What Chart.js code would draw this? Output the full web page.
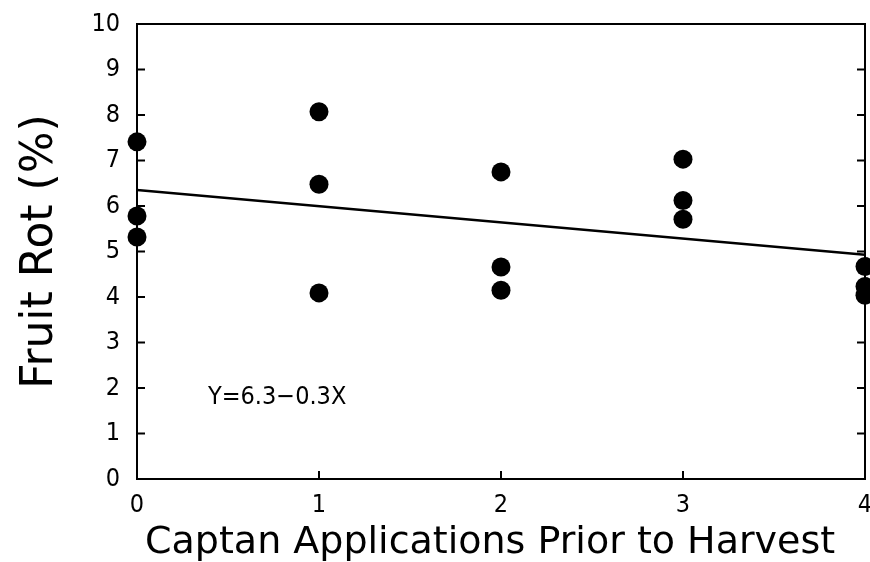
<!DOCTYPE html>
<html>
<head>
<meta charset="utf-8">
<script src="https://cdn.jsdelivr.net/npm/chart.js@4/dist/chart.umd.min.js"></script>
<style>
  body { margin: 0; background: #fff; }
  #wrap { width: 870px; height: 562px; }
</style>
</head>
<body>
<div id="wrap"><canvas id="chart" width="870" height="562"></canvas></div>
<script>
// Captan applications (x) and fruit rot % (y)
const appsX = [0, 0, 0, 1, 1, 1, 2, 2, 2, 3, 3, 3, 4, 4, 4];
const rotY = [7.41, 5.78, 5.32, 8.07, 6.48, 4.09, 6.75, 4.66, 4.15, 7.03, 6.12, 5.71, 4.67, 4.23, 4.04];

// regression line as drawn (ends at x=0 and x=4)
const fitX = [0, 4];
const fitY = [6.35, 4.93];

const xTicks = [0, 1, 2, 3, 4];
const yTicks = [0, 1, 2, 3, 4, 5, 6, 7, 8, 9, 10];

const xTitle = 'Captan Applications Prior to Harvest';
const yTitle = 'Fruit Rot (%)';
const equation = 'Y=6.3\u22120.3X';
const equationAt = { x: 0.77, y: 1.8 };

const TICK_FONT = "'DejaVu Sans Condensed', 'DejaVu Sans', sans-serif";
const TITLE_FONT = "'DejaVu Sans', sans-serif";

// frame box with inward tick marks, x title and the equation text
const framePlugin = {
  id: 'frame',
  afterDatasetsDraw(chart) {
    const { ctx, chartArea: a, scales } = chart;
    ctx.save();
    ctx.strokeStyle = '#000';
    ctx.lineWidth = 2;
    ctx.strokeRect(a.left, a.top, a.right - a.left, a.bottom - a.top);
    ctx.beginPath();
    yTicks.forEach(v => {
      const py = scales.y.getPixelForValue(v);
      ctx.moveTo(a.left, py); ctx.lineTo(a.left + 8, py);
      ctx.moveTo(a.right, py); ctx.lineTo(a.right - 8, py);
    });
    xTicks.forEach(v => {
      const px = scales.x.getPixelForValue(v);
      ctx.moveTo(px, a.bottom); ctx.lineTo(px, a.bottom - 8);
    });
    ctx.stroke();

    ctx.fillStyle = '#000';
    ctx.textAlign = 'center';
    ctx.textBaseline = 'middle';
    ctx.font = '25px ' + TICK_FONT;
    ctx.fillText(equation, scales.x.getPixelForValue(equationAt.x), scales.y.getPixelForValue(equationAt.y));

    // x title sits a little left of the axis centre in the original
    ctx.font = '38px ' + TITLE_FONT;
    ctx.fillText(xTitle, a.left + (a.right - a.left) * 0.485, 543);
    ctx.restore();
  }
};

new Chart(document.getElementById('chart'), {
  type: 'scatter',
  data: {
    datasets: [
      {
        label: 'Fruit rot',
        data: appsX.map((x, i) => ({ x: x, y: rotY[i] })),
        backgroundColor: '#000',
        borderWidth: 0,
        pointRadius: 9.5,
        pointHoverRadius: 9.5,
        clip: false
      },
      {
        type: 'line',
        label: 'Fit',
        data: fitX.map((x, i) => ({ x: x, y: fitY[i] })),
        borderColor: '#000',
        borderWidth: 2.5,
        pointRadius: 0,
        fill: false
      }
    ]
  },
  options: {
    responsive: false,
    animation: false,
    events: [],
    layout: { autoPadding: false, padding: { top: 24, right: 5, left: 0, bottom: 0 } },
    plugins: {
      legend: { display: false },
      tooltip: { enabled: false }
    },
    scales: {
      x: {
        type: 'linear',
        min: 0,
        max: 4,
        afterFit(scale) {
          scale.height = 83;
          scale.paddingLeft = 0;
          scale.paddingRight = 0;
        },
        grid: { display: false, drawTicks: false },
        border: { display: false },
        ticks: {
          stepSize: 1,
          padding: 11,
          color: '#000',
          font: { family: TICK_FONT, size: 25 }
        }
      },
      y: {
        type: 'linear',
        min: 0,
        max: 10,
        afterFit(scale) {
          scale.width = 137;
          scale.paddingTop = 0;
          scale.paddingBottom = 0;
        },
        grid: { display: false, drawTicks: false },
        border: { display: false },
        ticks: {
          stepSize: 1,
          padding: 17,
          color: '#000',
          font: { family: TICK_FONT, size: 25 }
        },
        title: {
          display: true,
          text: yTitle,
          color: '#000',
          font: { family: TITLE_FONT, size: 44, lineHeight: 1 },
          padding: { top: 19, bottom: 0 }
        }
      }
    }
  },
  plugins: [framePlugin]
});
</script>
</body>
</html>
